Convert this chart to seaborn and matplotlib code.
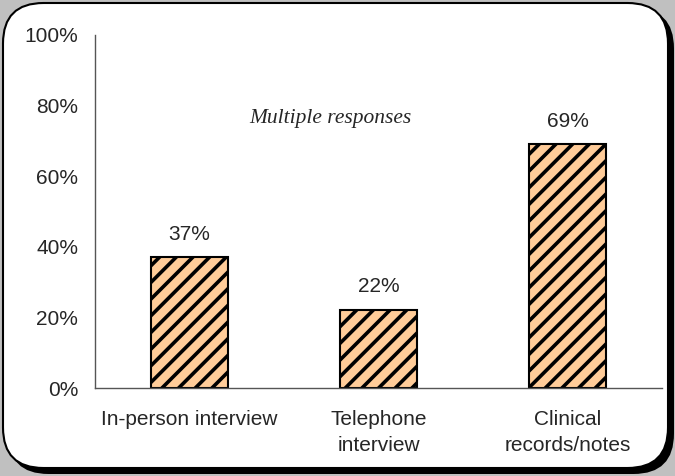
import matplotlib
matplotlib.use("Agg")
import matplotlib.pyplot as plt
import seaborn as sns
import pandas as pd
from matplotlib.patches import FancyBboxPatch
from matplotlib.ticker import FixedLocator, PercentFormatter

methods = ["In-person interview", "Telephone\ninterview", "Clinical\nrecords/notes"]
shares = [37, 22, 69]
note = "Multiple responses"

df = pd.DataFrame({"method": methods, "share": shares})

sns.set_style("white")
plt.rcParams["font.family"] = ["Liberation Sans", "DejaVu Sans"]
plt.rcParams["hatch.linewidth"] = 2.6

fig = plt.figure(figsize=(6.75, 4.76), dpi=100)
fig.patch.set_facecolor("#c0c0c0")

# rounded white panel with a drop shadow
W, H = 675, 476
shadow = FancyBboxPatch((8 / W, 2 / H), 666 / W, 466 / H,
                        boxstyle="round,pad=0,rounding_size=0.06",
                        transform=fig.transFigure, facecolor="black",
                        edgecolor="none", zorder=0,
                        mutation_aspect=W / H)
panel = FancyBboxPatch((3 / W, 8 / H), 665 / W, 465 / H,
                       boxstyle="round,pad=0,rounding_size=0.06",
                       transform=fig.transFigure, facecolor="white",
                       edgecolor="black", linewidth=1.5, zorder=1,
                       mutation_aspect=W / H)
fig.patches.extend([shadow, panel])

ax = fig.add_axes([95 / W, 1 - 388 / H, (662 - 95) / W, (388 - 35) / H])
ax.set_facecolor("none")
ax.set_zorder(2)

sns.barplot(data=df, x="method", y="share", color="#ffcc99", width=0.41,
            edgecolor="black", linewidth=1.5, hatch="//", saturation=1,
            ax=ax)

for i, v in enumerate(shares):
    ax.annotate(f"{v}%", (i, v), xytext=(0, 10), textcoords="offset points",
                ha="center", va="bottom", fontsize=15)

ax.text(0.743, 76.3, note, ha="center", va="center", fontsize=15.5,
        style="italic", family=["Liberation Serif", "DejaVu Serif"])

ax.set_xlim(-0.5, 2.5)
ax.set_ylim(0, 100)
ax.set_yticks(range(0, 101, 20))
ax.yaxis.set_major_formatter(PercentFormatter(decimals=0))
ax.xaxis.set_minor_locator(FixedLocator([-0.5, 0.5, 1.5, 2.5]))
ax.tick_params(axis="x", which="major", length=0, pad=16, labelsize=15)
ax.tick_params(axis="x", which="minor", length=6, direction="out",
               color="#555555", width=1)
ax.tick_params(axis="y", length=6, direction="out", color="#555555",
               width=1, labelsize=15, pad=6)
for lbl in ax.get_xticklabels():
    lbl.set_linespacing(1.45)
ax.set_xlabel("")
ax.set_ylabel("")
for side in ["top", "right"]:
    ax.spines[side].set_visible(False)
for side in ["left", "bottom"]:
    ax.spines[side].set_color("#555555")
    ax.spines[side].set_linewidth(1)

fig.savefig("out.png", dpi=100, facecolor=fig.get_facecolor())
